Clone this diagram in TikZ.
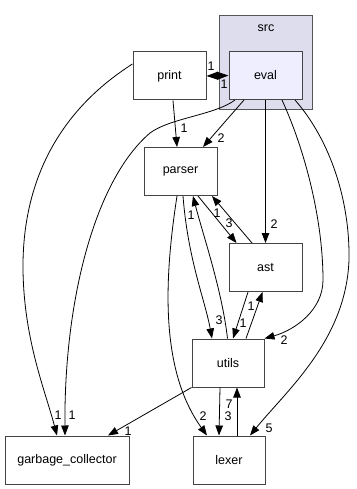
\documentclass[tikz,border=0pt]{standalone}
\usepackage{fontspec}
\setmainfont{Liberation Sans}
\usetikzlibrary{arrows.meta}
\definecolor{clusterfill}{HTML}{DDDDEE}
\definecolor{clusterline}{HTML}{555555}
\definecolor{evalfill}{HTML}{EEEEFF}
\definecolor{boxline}{HTML}{444444}
\begin{document}
\begin{tikzpicture}[x=1pt,y=-1pt,
  box/.style={draw=boxline,line width=1pt,fill=white,rectangle,inner sep=0pt,
    minimum width=73pt,minimum height=48pt,font=\fontsize{12.5}{14}\selectfont},
  dep/.style={draw=black,line width=0.8pt,-{Triangle[length=10pt,width=7.5pt]}},
  num/.style={font=\fontsize{12.5}{14}\selectfont,inner sep=0pt}]
\useasboundingbox (0,0) rectangle (356,489);

% directory cluster
\node[draw=clusterline,fill=clusterfill,line width=1pt,minimum width=93pt,minimum height=94pt,inner sep=0pt] (src) at (265.5,63) {};
\node[num] (srclabel) at (266,28) {src};

% directories
\node[box,fill=evalfill] (eval) at (265.5,75.5) {eval};
\node[box] (print) at (169.5,76) {print};
\node[box] (parser) at (180.5,171.5) {parser};
\node[box] (ast) at (265.5,267.5) {ast};
\node[box,minimum width=72pt] (utils) at (228,363) {utils};
\node[box,minimum width=124pt] (gc) at (67,460) {garbage\_collector};
\node[box,minimum width=72pt] (lexer) at (229,460) {lexer};

% print <-> eval
\draw[draw=black,line width=0.8pt,{Triangle[length=11.5pt,width=8pt]}-{Triangle[length=11.5pt,width=8pt]}] (print.east) -- (eval.west);
\node[num] at (211,66) {1};
\node[num] at (224,84) {1};

% into parser
\draw[dep] ([xshift=3.5pt]print.south) -- ([xshift=-3.5pt]parser.north);
\node[num] at (184,128) {1};
\draw[dep] ([xshift=-21.5pt]eval.south) -- ([xshift=22.5pt]parser.north);
\node[num] at (221,138) {2};

% eval -> ast
\draw[dep] (eval.south) -- (ast.north);
\node[num] at (274,224) {2};

% into garbage_collector
\draw[dep] ([xshift=-30.5pt]eval.south) .. controls (215,115) and (170,118) .. (150,133)
  .. controls (95,180) and (64,300) .. ([xshift=-2pt]gc.north);
\draw[dep] ([yshift=12pt]print.west) .. controls (60,110) and (22,180) .. (23,270)
  .. controls (24,340) and (45,390) .. ([xshift=-10pt]gc.north);
\node[num] at (58,415) {1};
\node[num] at (72,415) {1};
\draw[dep] (utils.south west) -- ([xshift=41pt]gc.north);
\node[num] at (128,431) {1};

% eval -> utils, eval -> lexer
\draw[dep] ([xshift=16.5pt]eval.south) .. controls (305,150) and (323,220) .. (323,280)
  .. controls (323,310) and (295,330) .. (utils.north east);
\node[num] at (284,340) {2};
\draw[dep] ([xshift=29.5pt]eval.south) .. controls (330,140) and (350,200) .. (349,260)
  .. controls (346,340) and (287,390) .. ([xshift=21pt]lexer.north);
\node[num] at (269,428) {5};

% parser <-> ast
\draw[dep] ([xshift=17.5pt]parser.south) -- ([xshift=-29pt]ast.north);
\node[num] at (229,223) {3};
\draw[dep] ([xshift=-13.5pt]ast.north) -- ([xshift=31.5pt]parser.south);
\node[num] at (217,213) {1};

% parser <-> utils
\draw[dep] ([xshift=-0.5pt]utils.north) .. controls (222,290) and (203,235) .. ([xshift=12.5pt]parser.south);
\node[num] at (191,215) {1};
\draw[dep] ([xshift=2.5pt]parser.south) .. controls (188,260) and (205,300) .. ([xshift=-16pt]utils.north);
\node[num] at (219,320) {3};

% parser -> lexer
\draw[dep] ([xshift=-3.5pt]parser.south) .. controls (164,280) and (160,370) .. ([xshift=-22pt]lexer.north);
\node[num] at (203,416) {2};

% ast <-> utils
\draw[dep] ([xshift=-17.5pt]ast.south) -- ([xshift=5pt]utils.north);
\node[num] at (243,323) {1};
\draw[dep] ([xshift=18pt]utils.north) -- ([xshift=-3pt]ast.south);
\node[num] at (251,306) {1};

% utils <-> lexer
\draw[dep] ([xshift=-8pt]utils.south) -- ([xshift=-10pt]lexer.north);
\node[num] at (228,416) {3};
\draw[dep] ([xshift=8pt]lexer.north) -- ([xshift=9pt]utils.south);
\node[num] at (229,404) {7};
\end{tikzpicture}
\end{document}
